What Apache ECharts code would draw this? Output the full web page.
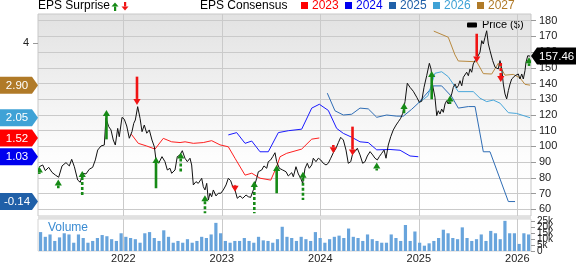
<!DOCTYPE html>
<html><head><meta charset="utf-8">
<script src="https://cdn.jsdelivr.net/npm/echarts@6/dist/echarts.min.js"></script>
<style>html,body{margin:0;padding:0;background:#fff}#c{width:576px;height:264px}</style>
</head><body><div id="c"></div>
<script>
const FONT = '"Liberation Sans", Arial, sans-serif';
// ---- axis ticks ----
const yearTicks = [2022, 2023, 2024, 2025, 2026];
const priceTicks = [60, 70, 80, 90, 100, 110, 120, 130, 140, 150, 160, 170, 180];
const epsTicks = [4];
const volumeTicksA = [0, 10, 20];
const volumeTicksB = [5, 15, 25];
const xRange = [2021.134, 2026.139];

// ---- price (year fraction, $) ----
const priceT = [2021.147,2021.182,2021.208,2021.243,2021.276,2021.310,2021.344,2021.378,2021.418,2021.452,2021.476,2021.503,2021.537,2021.563,2021.588,2021.621,2021.655,2021.689,2021.716,2021.740,2021.774,2021.807,2021.824,2021.852,2021.875,2021.898,2021.919,2021.943,2021.959,2021.987,
2022.010,2022.035,2022.061,2022.088,2022.106,2022.122,2022.146,2022.170,2022.190,2022.213,2022.238,2022.264,2022.291,2022.315,2022.332,2022.359,2022.393,2022.423,2022.447,2022.474,2022.491,2022.525,2022.548,2022.576,2022.599,2022.626,2022.650,2022.677,2022.694,2022.711,2022.738,2022.761,2022.796,2022.812,2022.829,2022.847,2022.863,2022.880,2022.897,2022.914,2022.941,2022.964,2022.989,
2023.015,2023.043,2023.066,2023.090,2023.111,2023.134,2023.157,2023.185,2023.212,2023.246,2023.269,2023.293,2023.320,2023.354,2023.371,2023.388,2023.405,2023.428,2023.456,2023.472,2023.496,2023.517,2023.540,2023.557,2023.584,2023.618,2023.652,2023.675,2023.685,2023.710,2023.726,2023.753,2023.777,2023.801,2023.821,2023.845,2023.868,2023.888,2023.913,2023.929,2023.956,2023.980,
2024.004,2024.030,2024.058,2024.081,2024.106,2024.132,2024.159,2024.183,2024.207,2024.234,2024.261,2024.284,2024.309,2024.329,2024.352,2024.376,2024.403,2024.430,2024.454,2024.477,2024.505,2024.532,2024.555,2024.579,2024.599,2024.623,2024.647,2024.667,2024.690,2024.715,2024.741,2024.769,2024.792,2024.816,2024.837,2024.860,2024.883,2024.911,2024.944,2024.979,
2025.005,2025.029,2025.053,2025.080,2025.107,2025.124,2025.141,2025.164,2025.182,2025.198,2025.215,2025.232,2025.249,2025.266,2025.283,2025.299,2025.317,2025.334,2025.350,2025.368,2025.385,2025.401,2025.418,2025.436,2025.452,2025.469,2025.486,2025.503,2025.520,2025.537,2025.553,2025.571,2025.594,2025.621,2025.639,2025.655,2025.672,2025.689,2025.706,2025.723,2025.750,2025.774,2025.791,2025.807,2025.824,2025.842,2025.858,2025.875,2025.892,2025.909,2025.926,2025.943,2025.959,2025.977,2025.994,
2026.010,2026.027,2026.045,2026.061,2026.078,2026.088,2026.106,2026.129];
const priceV = [87.1,88.2,84.6,86.7,83.5,81.8,80.4,87.6,89.7,87.6,91.8,87.1,78.6,77.2,82.9,82.5,85.5,86.7,91.4,97.7,100.3,100.9,117.9,112.6,110.5,104.1,100.9,111.5,106.2,118.5,
117.3,113.0,105.2,109.4,114.7,116.8,125.3,117.9,109.4,113.6,108.4,110.5,104.1,99.8,91.4,89.3,93.5,90.3,85.0,86.1,82.9,85.0,93.5,94.6,97.3,92.5,90.3,92.5,88.2,75.5,77.6,76.5,79.7,74.4,72.3,76.5,65.9,70.2,68.0,72.3,68.5,70.2,70.2,
72.3,75.5,79.7,78.2,74.4,72.3,67.0,68.5,67.0,69.1,68.0,67.6,72.3,79.7,83.9,82.9,85.0,87.6,86.1,90.3,91.4,93.5,96.0,90.3,86.1,85.0,83.9,81.2,81.8,83.3,80.7,87.1,82.5,79.7,76.5,86.1,89.3,86.1,88.2,92.5,90.3,92.5,
91.4,89.3,88.2,89.3,92.5,96.0,98.8,102.4,105.8,104.1,97.7,89.3,90.3,95.6,96.7,98.8,94.6,89.3,90.3,93.9,96.7,94.6,92.5,91.4,93.5,95.6,97.7,92.5,100.9,106.2,110.5,113.6,115.7,117.9,121.1,128.5,140.2,137.6,135.1,131.3,
128.1,128.7,137.6,145.0,152.9,149.3,138.6,131.3,119.6,122.7,120.6,123.8,121.7,127.0,129.1,127.0,130.2,133.4,137.6,139.7,137.2,138.6,141.8,138.6,144.0,142.9,147.2,145.0,149.3,147.2,152.5,154.6,156.7,159.9,167.3,165.2,169.4,173.6,165.2,160.9,154.6,150.4,151.4,149.3,154.6,149.3,139.7,133.4,130.2,135.5,139.7,142.9,142.9,145.0,144.0,
146.1,142.9,146.1,142.9,148.2,153.5,157.7,157.46];

// ---- EPS consensus by fiscal year ----
const c2023T = [2022.081,2022.152,2022.238,2022.322,2022.406,2022.491,2022.576,2022.627,2022.711,2022.812,2022.897,2022.982,2023.066,2023.134,2023.236,2023.304,2023.388,2023.497,2023.557,2023.591,2023.659,2023.811,2023.913,2023.990];
const c2023V = [1.62,1.38,1.31,1.23,1.51,1.42,1.40,1.42,1.38,1.40,1.45,1.34,1.29,0.99,0.55,0.60,0.47,0.42,0.77,1.03,1.12,1.23,1.49,1.52];
const c2024T = [2023.066,2023.151,2023.236,2023.304,2023.388,2023.472,2023.574,2023.675,2023.811,2023.913,2023.990,2024.081,2024.166,2024.234,2024.319,2024.403,2024.487,2024.573,2024.708,2024.810,2024.911,2024.995];
const c2024V = [1.60,1.66,1.38,1.44,1.16,1.16,1.66,1.71,1.75,2.30,2.40,2.24,1.77,1.64,1.54,1.42,1.40,1.21,1.22,1.20,1.05,1.03];
const c2025T = [2024.071,2024.149,2024.234,2024.319,2024.403,2024.487,2024.573,2024.674,2024.776,2024.843,2024.928,2024.995,2025.147,2025.232,2025.334,2025.401,2025.503,2025.571,2025.655,2025.723,2025.909,2025.977];
const c2025V = [2.69,2.23,2.12,2.14,2.30,2.28,2.06,2.12,2.09,2.09,2.27,2.43,2.88,2.88,2.60,2.30,2.34,2.34,1.16,1.16,-0.14,-0.14];
const c2026T = [2024.995,2025.093,2025.164,2025.232,2025.299,2025.401,2025.553,2025.621,2025.689,2025.756,2025.824,2025.909,2025.994,2026.129];
const c2026V = [2.43,2.62,3.21,3.25,3.12,2.73,2.73,2.56,2.47,2.51,2.43,2.18,2.16,2.05];
const c2027T = [2025.152,2025.299,2025.367,2025.401,2025.588,2025.655,2025.740,2025.807,2025.875,2025.959,2026.027,2026.078,2026.129];
const c2027V = [4.31,4.15,3.69,3.53,3.51,3.20,3.19,3.47,3.16,3.18,3.09,2.92,2.90];

// ---- EPS surprise arrows (date, tip price, tail price, dashed) ----
const surpriseT = [2021.147,2021.340,2021.583,2021.829,2022.139,2022.332,2022.583,2022.829,2023.134,2023.330,2023.557,2023.824,2024.132,2024.327,2024.573,2024.850,2025.131,2025.317,2025.588,2025.832,2026.119];
const surpriseTip = [87.3,79.0,84.4,123.2,126.4,93.3,96.1,68.9,71.2,78.0,88.2,83.9,95.6,94.2,89.7,127.6,148.0,132.4,153.4,141.0,156.7];
const surpriseTail = [82.5,73.4,69.1,104.5,144.4,73.4,83.9,57.5,75.5,57.5,70.2,65.9,100.9,112.6,84.7,121.1,130.0,127.0,171.7,154.4,151.2];
const surpriseDashed = [0,0,1,0,0,0,1,1,1,1,0,1,1,0,1,0,0,0,0,1,0];

// ---- volume (thousands), oldest to newest ----
const volume = [16,12,14,8.5,11.5,15,14,7,14,11,7,8.5,11,13.5,12.5,10,8.5,15,12,11,10,7,15,16,11,8.5,17.5,12,7,8.5,7,10,7,8.5,
12,11,14,23.8,15,8.5,7,8.5,8.5,11,8.5,7,12,9,8.5,7,10,20.5,12,11,8.5,12,10,8.5,16,11,7,10,12,13,11,19,12,11,8.5,14,10,8.5,
7,7,14,11,8.5,22,8.5,16.5,7,4.5,6.5,8.5,11,18,15,11,10,20,11,8.5,10,14,8.5,17,15,10,25.5,15,15,6,15,14];
const volStart = 2021.160, volEnd = 2026.115;

const consensusYears = ['2023','2024','2025','2026','2027'];
const lineColors = ['#ff2020','#1a1aff','#2f6db5','#48a6da','#b8893f'];
const tagColors = ['#ff0000','#0000ee','#2060a8','#3fa2d6','#b07a28'];
const consT = [c2023T,c2024T,c2025T,c2026T,c2027T];
const consV = [c2023V,c2024V,c2025V,c2026V,c2027V];

const GREEN = '#168a16', RED = '#f01414';

function zip(a, b){ return a.map((v,i)=>[v, b[i]]); }

function renderArrow(params, api){
  const t = api.value(0);
  const a = api.coord([t, api.value(1)]);
  const b = api.coord([t, api.value(2)]);
  const dashed = api.value(3) === 1;
  const up = a[1] < b[1];
  const color = up ? GREEN : RED;
  const s = up ? 1 : -1;
  const hh = 6, hw = 3.6;
  const base = a[1] + s*hh;
  return {type:'group', children:[
    {type:'line', shape:{x1:a[0], y1:base, x2:a[0], y2:b[1]}, style:{stroke:color, lineWidth:2.6, lineDash: dashed ? [3,2] : null}},
    {type:'polygon', shape:{points:[[a[0],a[1]],[a[0]-hw,base],[a[0]+hw,base]]}, style:{fill:color}}
  ]};
}

function renderTag(params, api){
  const p = api.coord([api.value(0), api.value(1)]);
  const i = api.value(2);
  const h = 8.5, x0 = p[0]-38, x1 = p[0]-6;
  return {type:'group', children:[
    {type:'polygon', shape:{points:[[x0,p[1]-h],[x1,p[1]-h],[p[0],p[1]],[x1,p[1]+h],[x0,p[1]+h]]}, style:{fill:tagColors[i]}},
    {type:'text', style:{text: api.value(1).toFixed(2), x:(x0+x1)/2+1, y:p[1]+0.5, align:'center', verticalAlign:'middle', fill:'#fff', fontSize:11.5, fontFamily:FONT}}
  ]};
}

function renderPriceTag(params, api){
  const p = api.coord([api.value(0), api.value(1)]);
  const h = 8.5;
  return {type:'group', children:[
    {type:'polygon', shape:{points:[[p[0],p[1]],[p[0]+6,p[1]-h],[p[0]+46,p[1]-h],[p[0]+46,p[1]+h],[p[0]+6,p[1]+h]]}, style:{fill:'#000'}},
    {type:'text', style:{text: api.value(1).toFixed(2), x:p[0]+8, y:p[1]+0.5, align:'left', verticalAlign:'middle', fill:'#fff', fontSize:11.5, fontFamily:FONT}}
  ]};
}

const volData = volume.map((v,i)=>[volStart + (volEnd-volStart)*i/(volume.length-1), v]);

const series = [];
consensusYears.forEach((y,i)=>{
  series.push({type:'line', name:y, xAxisIndex:0, yAxisIndex:1, data: zip(consT[i], consV[i]), showSymbol:false, symbol:'none', z:3,
    lineStyle:{color:lineColors[i], width:1}, silent:true});
});
series.push({type:'line', name:'Price', xAxisIndex:0, yAxisIndex:0, data: zip(priceT, priceV), showSymbol:false, symbol:'none', z:4,
  lineStyle:{color:'#111', width:1}, silent:true});
series.push({type:'custom', xAxisIndex:0, yAxisIndex:0, z:5, clip:true, renderItem:renderArrow,
  encode:{x:0, y:[1,2]},
  data: surpriseT.map((t,i)=>[t, surpriseTip[i], surpriseTail[i], surpriseDashed[i]])});
series.push({type:'custom', xAxisIndex:0, yAxisIndex:1, z:6, clip:false, renderItem:renderTag, encode:{x:0,y:1},
  data: consV.map((arr,i)=>[xRange[0], arr[arr.length-1], i])});
series.push({type:'custom', xAxisIndex:0, yAxisIndex:0, z:6, clip:false, renderItem:renderPriceTag, encode:{x:0,y:1},
  data: [[xRange[1], priceV[priceV.length-1]]]});
series.push({type:'bar', xAxisIndex:1, yAxisIndex:2, data: volData, barWidth:3.2, itemStyle:{color:'#68a4dc'}, silent:true});

// legend graphics
const graphics = [
  {type:'text', left:38, top:0, style:{text:'EPS Surprise', fontSize:12, fontFamily:FONT, fill:'#000'}},
  {type:'polygon', shape:{points:[[115,2.5],[111.5,6.5],[118.5,6.5]]}, style:{fill:GREEN}},
  {type:'rect', shape:{x:114,y:6.5,width:2.2,height:4.5}, style:{fill:GREEN}},
  {type:'polygon', shape:{points:[[125,10.5],[121.5,6.5],[128.5,6.5]]}, style:{fill:RED}},
  {type:'rect', shape:{x:124,y:2,width:2.2,height:4.5}, style:{fill:RED}},
  {type:'text', left:200, top:0, style:{text:'EPS Consensus', fontSize:12, fontFamily:FONT, fill:'#000'}},
  {type:'rect', shape:{x:467,y:22.5,width:10,height:5,r:1}, style:{fill:'#000'}},
  {type:'text', left:482, top:19, style:{text:'Price ($)', fontSize:11, fontFamily:FONT, fill:'#000'}},
  {type:'text', left:48, top:222, style:{text:'Volume', fontSize:12, fontFamily:FONT, fill:'#3a8bd2'}},
  {type:'rect', shape:{x:38,y:216.5,width:493,height:2.5}, style:{fill:'#e0e0e0'}}
];
const sqX = [301, 345, 389, 433, 477];
consensusYears.forEach((y,i)=>{
  graphics.push({type:'rect', shape:{x:sqX[i], y:2, width:7, height:7}, style:{fill:tagColors[i]}});
  graphics.push({type:'text', left:sqX[i]+11, top:0, style:{text:y, fontSize:12, fontFamily:FONT, fill:tagColors[i]}});
});

const gridLine = {show:true, lineStyle:{color:'#cacaca', width:1}};
const volFmt = v => v === 0 ? '0' : v + 'k';
function volAxis(ticks){
  return {type:'value', gridIndex:1, position:'right', offset:0, min:0, max:27.07, axisLine:{show:false},
    axisTick:{show:true, length:4, customValues:ticks, lineStyle:{color:'#999'}},
    axisLabel:{customValues:ticks, fontSize:10, color:'#222', margin:6, hideOverlap:false, formatter:volFmt},
    splitLine:{show:false}};
}
const option = {
  animation:false,
  textStyle:{fontFamily:FONT},
  grid:[
    {left:38, right:45, top:14, height:202, show:true, borderColor:'#c8c8c8', borderWidth:1,
     backgroundColor:{type:'linear', x:0, y:0, x2:0, y2:1, colorStops:[{offset:0,color:'#e2e2e2'},{offset:0.7,color:'#fdfdfd'},{offset:1,color:'#ffffff'}]}},
    {left:38, right:45, top:219, height:35.3, show:true, borderColor:'#d4d4d4', borderWidth:1, backgroundColor:'#fff'}
  ],
  xAxis:[
    {type:'value', gridIndex:0, min:xRange[0], max:xRange[1], axisLine:{show:false},
     axisTick:{show:false, customValues:yearTicks}, axisLabel:{show:false, customValues:yearTicks}, splitLine:gridLine},
    {type:'value', gridIndex:1, min:xRange[0], max:xRange[1], axisLine:{show:false},
     axisTick:{show:false, customValues:yearTicks},
     axisLabel:{customValues:yearTicks, formatter:v=>String(Math.round(v)), fontSize:11, color:'#222', margin:2},
     splitLine:gridLine}
  ],
  yAxis:[
    {type:'value', gridIndex:0, position:'right', min:55.74, max:184.26, axisLine:{show:false},
     axisTick:{show:true, length:5, customValues:priceTicks, lineStyle:{color:'#999'}},
     axisLabel:{customValues:priceTicks, fontSize:11, color:'#222', margin:8, hideOverlap:false}, splitLine:gridLine},
    {type:'value', gridIndex:0, position:'left', min:-0.517, max:4.757, axisLine:{show:false},
     axisTick:{show:true, length:5, customValues:epsTicks, lineStyle:{color:'#999'}},
     axisLabel:{customValues:epsTicks, fontSize:11, color:'#222', margin:9}, splitLine:{show:false}},
    volAxis(volumeTicksA),
    volAxis(volumeTicksB)
  ],
  graphic: graphics,
  series: series
};
const chart = echarts.init(document.getElementById('c'), null, {renderer:'canvas'});
chart.setOption(option);
</script>
</body></html>
